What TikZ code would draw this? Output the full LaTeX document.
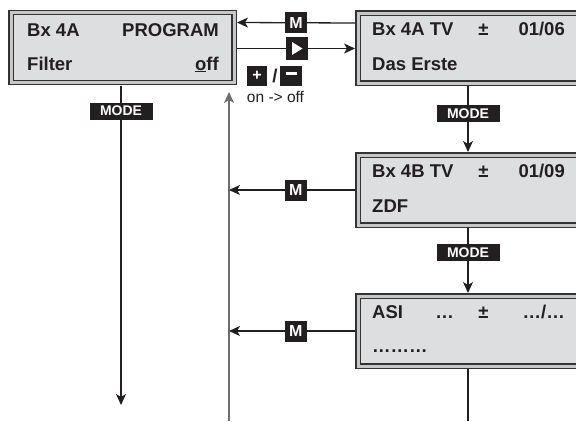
\documentclass[tikz,border=0pt]{standalone}
\usepackage{fontspec}
\setmainfont{Liberation Sans}
\usepackage{tikz}
\usetikzlibrary{positioning, arrows.meta, calc}
\definecolor{lcdgray}{RGB}{221,222,223}
\definecolor{keyblack}{RGB}{35,31,32}
\definecolor{linegray}{RGB}{110,110,110}

\begin{document}
\begin{tikzpicture}[x=1pt, y=-1pt,
  lcd/.style={rectangle, draw=black!80, double=black!22, line width=1.2pt,
              double distance=3pt, fill=lcdgray, outer sep=3pt,
              minimum width=223pt, minimum height=70pt, inner sep=0pt},
  lcdtxt/.style={inner sep=0pt, font=\fontsize{18.5}{20}\selectfont\bfseries,
                 text=keyblack},
  modekey/.style={rectangle, fill=keyblack, minimum width=63pt,
                  minimum height=17pt, inner sep=0pt,
                  font=\fontsize{14}{15}\selectfont\bfseries\color{white}},
  mkey/.style={rectangle, fill=keyblack, minimum width=22pt,
               minimum height=21pt, inner sep=0pt,
               font=\fontsize{16}{17}\selectfont\bfseries\color{white}},
  arr/.style={-{Stealth[length=11pt, width=10pt, inset=3pt]}, line width=1.3pt,
              draw=keyblack},
  plain/.style={line width=1.3pt, draw=keyblack}
]
\useasboundingbox (0,0) rectangle (576,421);

% === Displays ================================================================
\node[lcd] (LB)  at (122.5, 47.5)  {};
\node[lcd] (RB1) at (469.5, 48)    {};
\node[lcd] (RB2) at (469.5, 190)   {};
\node[lcd] (RB3) at (469.5, 331)   {};

% left display: program filter
\node[lcdtxt, anchor=base west] (L1) at (27, 36)  {Bx 4A};
\node[lcdtxt, anchor=base east] (L2) at (219, 36) {PROGRAM};
\node[lcdtxt, anchor=base west] (L3) at (27, 70)  {Filter};
\node[lcdtxt, anchor=base east] (L4) at (219, 70) {\underline{o}ff};

% right display 1
\node[lcdtxt, anchor=base west] (A1) at (372, 35)   {Bx 4A TV};
\node[lcdtxt, anchor=base]      (A2) at (483.5, 35) {±};
\node[lcdtxt, anchor=base east] (A3) at (565, 35)   {01/06};
\node[lcdtxt, anchor=base west] (A4) at (372, 70)   {Das Erste};

% right display 2
\node[lcdtxt, anchor=base west] (B1) at (372, 177)   {Bx 4B TV};
\node[lcdtxt, anchor=base]      (B2) at (483.5, 177) {±};
\node[lcdtxt, anchor=base east] (B3) at (565, 177)   {01/09};
\node[lcdtxt, anchor=base west] (B4) at (372, 212)   {ZDF};

% right display 3
\node[lcdtxt, anchor=base west] (C1) at (372, 318)   {ASI};
\node[lcdtxt, anchor=base]      (C2) at (444.5, 318) {…};
\node[lcdtxt, anchor=base]      (C3) at (483.5, 318) {±};
\node[lcdtxt, anchor=base east] (C4) at (565, 318)   {…/…};
\node[lcdtxt, anchor=base west] (C5) at (372, 352)   {………};

% === Keys =====================================================================
\node[mkey] (PL) at (297, 48.5) [minimum height=23pt] {};
\fill[white] ($(PL.center)+(-5,-6.5)$) -- ($(PL.center)+(5.5,0)$)
             -- ($(PL.center)+(-5,6.5)$) -- cycle;

\node[mkey]   (KP) at (257, 76) [minimum width=20pt, minimum height=20pt] {+};
\node[lcdtxt] (KS) at (275, 76) {/};
\node[mkey]   (KM) at (291, 76) [minimum height=20pt] {\rule[0.6ex]{11pt}{2.6pt}};
\node[inner sep=0pt, anchor=base, font=\fontsize{15.5}{16}\selectfont,
      text=keyblack] (ON) at (275.5, 102) {on -> off};

% === Connectors ==============================================================
\coordinate (V1) at (121, 405);
\coordinate (V2) at (229, 421);
\coordinate (V3) at (229, 92);
\coordinate (E3) at (468, 421);

\draw[arr] ([yshift=25pt]RB1.west) -- node[mkey]{M} ([yshift=25pt]LB.east);
\draw[plain] (LB.east |- PL) -- (PL);
\draw[arr] (PL) -- (RB1.west |- PL);

\draw[arr] (LB.south -| V1) -- node[modekey, pos=0.08]{MODE} (V1);
\draw[arr, draw=linegray] (V2) -- (V3);

\draw[arr] (RB1.south -| E3) -- node[modekey, pos=0.42]{MODE} (RB2.north -| E3);
\draw[arr] (RB2.south -| E3) -- node[modekey, pos=0.38]{MODE} (RB3.north -| E3);
\draw[plain] (RB3.south -| E3) -- (E3);

\draw[arr] (RB2.west) -- node[mkey, pos=0.47]{M} (RB2.west -| V3);
\draw[arr] (RB3.west) -- node[mkey, pos=0.47]{M} (RB3.west -| V3);

\end{tikzpicture}
\end{document}
